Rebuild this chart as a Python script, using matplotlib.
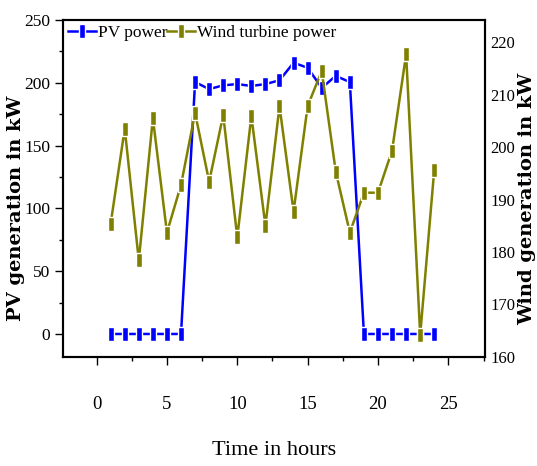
import matplotlib
matplotlib.use('Agg')
import matplotlib.pyplot as plt
from matplotlib.path import Path
from matplotlib.ticker import MultipleLocator

hours = list(range(1, 25))
pv_power = [0, 0, 0, 0, 0, 0, 200.6, 195, 198, 199, 197.5, 199, 202, 216,
            212, 196, 205.5, 200.6, 0, 0, 0, 0, 0, 0]
wind_power = [185.4, 203.5, 178.4, 205.5, 183.7, 192.8, 206.5, 193.4, 206.1,
              182.8, 205.9, 185.0, 207.8, 187.7, 207.8, 214.5, 195.3, 183.7,
              191.3, 191.3, 199.3, 217.7, 164.2, 195.7]

plt.rcParams['font.family'] = 'Liberation Serif'

# tall rectangle marker like the Origin style
rect = Path([(-0.45, -1), (0.45, -1), (0.45, 1), (-0.45, 1), (-0.45, -1)],
            [Path.MOVETO, Path.LINETO, Path.LINETO, Path.LINETO, Path.CLOSEPOLY])

fig = plt.figure(figsize=(5.37, 4.66), dpi=100)
ax = fig.add_axes([0.117, 0.234, 0.786, 0.723])
ax2 = ax.twinx()

l1, = ax.plot(hours, pv_power, color='blue', linewidth=1.8, marker=rect,
              markersize=10.5, markeredgecolor='white', markeredgewidth=1.0,
              label='PV power')
l2, = ax2.plot(hours, wind_power, color='#808000', linewidth=1.8, marker=rect,
               markersize=10.5, markeredgecolor='white', markeredgewidth=1.0,
               label='Wind turbine power')

ax.set_xlim(-2.4, 27.6)
ax.set_ylim(-18.3, 250)
ax2.set_ylim(160, 224.2)

ax.xaxis.set_major_locator(MultipleLocator(5))
ax.xaxis.set_minor_locator(MultipleLocator(2.5))
ax.yaxis.set_major_locator(MultipleLocator(50))
ax.yaxis.set_minor_locator(MultipleLocator(25))
ax2.yaxis.set_major_locator(MultipleLocator(10))

ax.tick_params(axis='both', which='major', direction='out', length=6, width=1,
               labelsize=13.5)
ax.tick_params(axis='both', which='minor', direction='out', length=3, width=1)
ax.tick_params(axis='x', pad=22)
ax.tick_params(axis='y', labelsize=12.5, pad=3)
ax2.tick_params(axis='y', length=0, labelsize=12, pad=4)

for a in (ax, ax2):
    for s in a.spines.values():
        s.set_linewidth(1.5)

ax.set_xlabel('Time in hours', fontsize=16, labelpad=20)
ax.set_ylabel('PV generation in kW', fontsize=14, fontweight='bold',
              family='DejaVu Serif')
ax2.set_ylabel('Wind generation in kW', fontsize=14, fontweight='bold',
               family='DejaVu Serif', rotation=90)
ax.yaxis.set_label_coords(-0.09, 0.44)
ax2.yaxis.set_label_coords(1.079, 0.47)

ax.legend(handles=[l1, l2], loc='upper left', ncol=2, frameon=False,
          fontsize=12.5, handlelength=1.6, handletextpad=0.1, columnspacing=0.0,
          borderaxespad=0.1, borderpad=0.2)

fig.savefig('out.png', dpi=100)
